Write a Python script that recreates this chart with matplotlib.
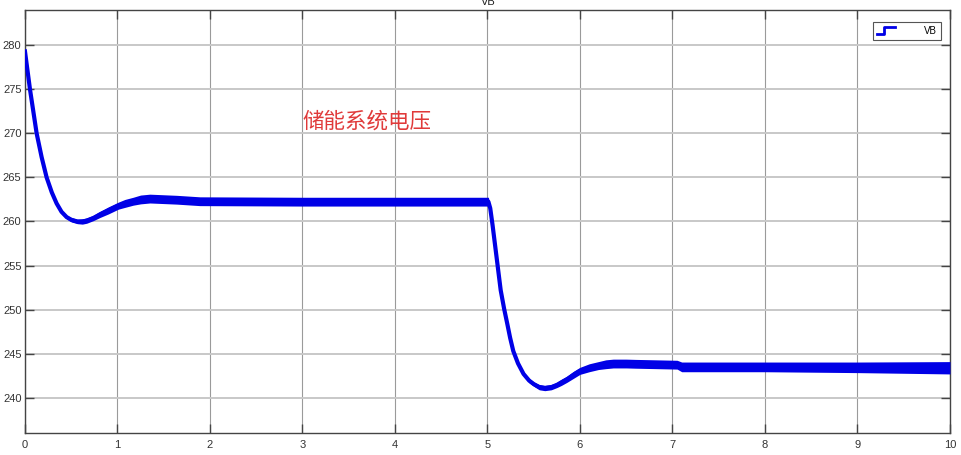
import matplotlib
matplotlib.use('Agg')
import matplotlib.pyplot as plt
from matplotlib.lines import Line2D
from matplotlib.legend_handler import HandlerBase
import numpy as np

plt.rcParams['font.family'] = ['Liberation Sans', 'Noto Sans CJK SC', 'DejaVu Sans']

# Key points of the VB trace
time_s = [0.0, 0.054, 0.126, 0.18, 0.234, 0.29, 0.342, 0.395, 0.45, 0.5, 0.566,
          0.62, 0.667, 0.74, 0.81, 0.9, 1.01, 1.08, 1.17, 1.25, 1.35, 1.64, 1.89,
          3.0, 4.0, 5.01,
          5.03, 5.055, 5.099, 5.143, 5.18, 5.214, 5.245, 5.279, 5.33, 5.39, 5.45, 5.5,
          5.56, 5.62, 5.69, 5.75, 5.8, 5.86, 5.93, 6.0, 6.1, 6.2, 6.28, 6.36, 6.5,
          6.6, 7.05, 7.1, 8.0, 9.0, 10.0]
vb = [279.3, 275.0, 270.0, 267.3, 265.0, 263.3, 262.05, 261.1, 260.5, 260.2, 260.0,
      260.0, 260.1, 260.4, 260.8, 261.25, 261.8, 262.05, 262.3, 262.5, 262.6, 262.47, 262.3,
      262.25, 262.25, 262.25,
      261.5, 259.6, 255.9, 252.2, 250.1, 248.4, 246.8, 245.3, 243.9, 242.7, 241.95, 241.55,
      241.2, 241.1, 241.2, 241.45, 241.75, 242.1, 242.6, 243.05, 243.4, 243.65, 243.8, 243.88, 243.88,
      243.85, 243.75, 243.5, 243.5, 243.45, 243.4]
# half width of the switching ripple band around the trace
ripple = [0.15, 0.15, 0.15, 0.15, 0.15, 0.15, 0.15, 0.2, 0.2, 0.25, 0.25,
          0.3, 0.3, 0.3, 0.35, 0.4, 0.4, 0.45, 0.45, 0.5, 0.5, 0.5, 0.5,
          0.5, 0.5, 0.5,
          0.3, 0.2, 0.15, 0.15, 0.15, 0.15, 0.15, 0.15, 0.2, 0.2, 0.25, 0.25,
          0.3, 0.3, 0.3, 0.3, 0.35, 0.35, 0.4, 0.4, 0.45, 0.45, 0.5, 0.5, 0.5,
          0.5, 0.5, 0.55, 0.55, 0.6, 0.7]

xticks = list(range(0, 11))
yticks = list(range(240, 281, 5))
note = "储能系统电压"

blue = '#0000e6'


class StepHandler(HandlerBase):
    # Simulink-style step icon for the legend
    def create_artists(self, legend, orig_handle, xdescent, ydescent,
                       width, height, fontsize, trans):
        x0 = -xdescent
        y0 = -ydescent
        xs = [x0, x0 + width * 0.4, x0 + width * 0.4, x0 + width]
        ys = [y0, y0, y0 + height, y0 + height]
        ln = Line2D(xs, ys, color=blue, lw=2, transform=trans)
        return [ln]


fig = plt.figure(figsize=(9.61, 4.55), dpi=100)
ax = fig.add_axes([0.026, 0.0484, 0.9625, 0.9296])

t = np.array(time_s)
v = np.array(vb)
r = np.array(ripple)
ax.fill_between(t, v - r, v + r, color=blue, lw=0, zorder=3)
trace, = ax.plot(t, v, color=blue, lw=3, solid_joinstyle='round', zorder=4)

ax.set_xlim(0, 10)
ax.set_ylim(236, 284)
ax.set_xticks(xticks)
ax.set_yticks(yticks)

ax.grid(axis='x', color='#9a9a9a', lw=0.8)
ax.grid(axis='y', color='#c8c8c8', lw=1.4)
ax.set_axisbelow(True)

ax.tick_params(direction='in', top=True, right=True, length=6.5, width=1,
               color='#444444', labelsize=8, labelcolor='#333333')
ax.tick_params(axis='x', pad=5)
ax.tick_params(axis='y', pad=2.5)
for sp in ax.spines.values():
    sp.set_color('#444444')
    sp.set_linewidth(1)

ax.text(3.0, 271.3, note, color='#e03a3a', fontsize=15.5, ha='left', va='center',
        family=['Noto Sans CJK SC', 'DejaVu Sans'])

fig.text(0.508, 0.989, 'VB', ha='center', va='baseline', fontsize=8, color='#222222')

leg = ax.legend([trace], ['VB'], handler_map={trace: StepHandler()},
                loc='upper right', bbox_to_anchor=(0.990, 0.972), borderaxespad=0,
                fancybox=False, framealpha=1, edgecolor='#555555', fontsize=7,
                handlelength=1.8, handletextpad=3.0, borderpad=0.4)
leg.get_frame().set_linewidth(0.8)

fig.savefig('out.png', dpi=100)
